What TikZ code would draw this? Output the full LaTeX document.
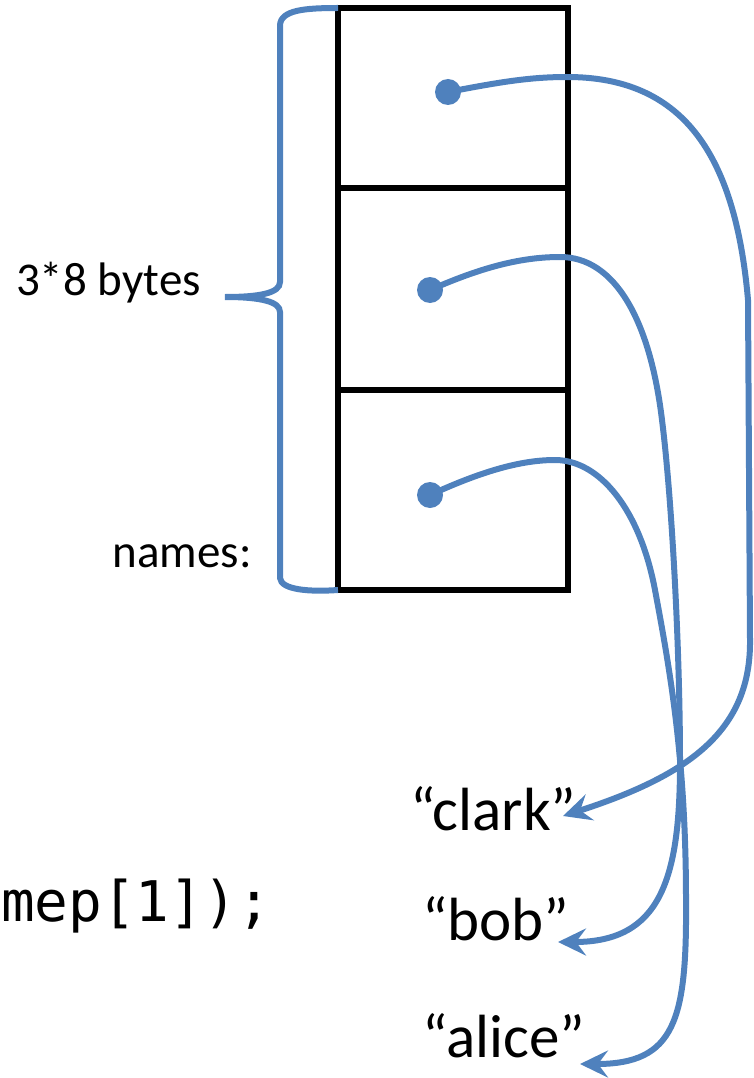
\documentclass[tikz,border=0pt]{standalone}
\usepackage{fontspec}
\setmainfont{Carlito}
\newfontfamily\codefont{DejaVu Sans Mono}
\usetikzlibrary{arrows.meta}
\definecolor{ptrblue}{HTML}{4F81BD}
\begin{document}
\begin{tikzpicture}[x=1pt,y=-1pt,
  cell/.style={draw=black,line width=6pt,minimum width=230pt,inner sep=0pt,outer sep=0pt},
  dot/.style={circle,fill=ptrblue,minimum size=26pt,inner sep=0pt},
  ptr/.style={draw=ptrblue,line width=6pt,-{Stealth[length=28pt,width=27pt,inset=10pt]}},
  brace/.style={draw=ptrblue,line width=6pt},
  lbl/.style={anchor=base east,inner sep=0pt,font=\fontsize{47}{50}\selectfont},
  str/.style={anchor=base west,inner sep=0pt,font=\fontsize{61}{64}\selectfont},
  code/.style={anchor=base east,inner sep=0pt,font=\codefont\fontsize{56}{60}\selectfont}]
\useasboundingbox (0,0) rectangle (753,1078);
% memory cells
\node[cell,minimum height=180pt] (c1) at (453,98) {};
\node[cell,minimum height=202pt] (c2) at (453,289) {};
\node[cell,minimum height=200pt] (c3) at (453,490) {};
% brace
\draw[brace] (c1.north west) .. controls (305,8) and (281,10) .. (280,25) -- (280,282)
  .. controls (280,293) and (260,297) .. (225,297)
  .. controls (262,297) and (280,302) .. (280,312) -- (280,578)
  .. controls (281,590) and (310,592) .. (c3.south west);
% labels
\node[lbl] (bytes) at (201,295) {3*8 bytes};
\node[lbl] (names) at (252,567) {names:};
\node[code] (code) at (271,921) {mep[1]);};
\node[str] (clark) at (410,830) {“clark”};
\node[str] (bob) at (422,940) {“bob”};
\node[str] (alice) at (422,1057) {“alice”};
\coordinate (clarkin) at (563,816);
\coordinate (bobin) at (558,942);
\coordinate (alicein) at (580,1064);
% pointer dots
\node[dot] (d1) at (448,92) {};
\node[dot] (d2) at (430,290) {};
\node[dot] (d3) at (430,495) {};
% pointers
\draw[ptr] (d1.center) .. controls (500,82) and (530,77) .. (567,77)
  .. controls (680,77) and (735,150) .. (748,300) -- (750,640)
  .. controls (751,730) and (690,775) .. (clarkin);
\draw[ptr] (d2.center) .. controls (480,268) and (520,257) .. (560,257)
  .. controls (615,257) and (650,320) .. (662,420)
  .. controls (672,500) and (680,650) .. (680,763)
  .. controls (680,880) and (660,942) .. (bobin);
\draw[ptr] (d3.center) .. controls (480,472) and (520,460) .. (555,460)
  .. controls (600,460) and (640,510) .. (655,590)
  .. controls (670,670) and (686,760) .. (686,900)
  .. controls (687,1020) and (675,1064) .. (alicein);
\end{tikzpicture}
\end{document}
